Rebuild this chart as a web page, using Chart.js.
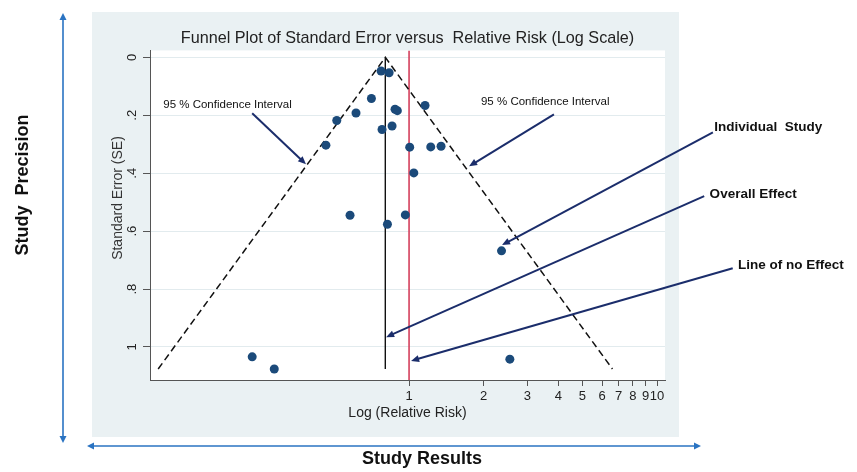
<!DOCTYPE html>
<html>
<head>
<meta charset="utf-8">
<script src="https://cdn.jsdelivr.net/npm/chart.js@4.4.1/dist/chart.umd.min.js"></script>
<style>
  html, body { margin: 0; padding: 0; background: #fff; }
  #wrap { width: 857px; height: 472px; }
</style>
</head>
<body>
<div id="wrap"><canvas id="funnel"></canvas></div>
<script>
// studies: relative risk and standard error
var studyRR = [0.771, 0.831, 0.705, 0.611, 0.511, 0.462, 1.16, 0.878, 0.897, 0.778, 0.854,
               1.006, 1.223, 1.346, 1.045, 0.578, 0.966, 0.818, 2.36, 0.233, 0.286, 2.55];
var studySE = [0.047, 0.053, 0.142, 0.192, 0.218, 0.303, 0.166, 0.179, 0.184, 0.249, 0.237,
               0.310, 0.309, 0.307, 0.399, 0.545, 0.544, 0.576, 0.668, 1.034, 1.076, 1.042];

var overallRR = 0.802;
var noEffectRR = 1;
var maxSE = 1.076;

// 95% limits of the funnel (left foot, apex, right foot)
var funnelRR = [0.0973, 0.802, 6.61];
var funnelSE = [1.076, 0, 1.076];

var xTicks = [1, 2, 3, 4, 5, 6, 7, 8, 9, 10];
var yTicks = [0, 0.2, 0.4, 0.6, 0.8, 1];
var xRange = [0.0902, 10.77];
var yRange = [-0.024, 1.114];

// call-outs, in data units (relative risk, SE)
var noteText = ["95 % Confidence Interval", "95 % Confidence Interval", "Individual  Study", "Overall Effect", "Line of no Effect"];
var noteBold = [false, false, true, true, true];
var noteAt   = [[0.102, 0.165], [1.95, 0.155], [17.0, 0.241], [16.3, 0.472], [21.2, 0.717]];
var noteTail = [[0.233, 0.193], [3.84, 0.197], [16.8, 0.259], [15.5, 0.479], [20.2, 0.728]];
var noteHead = [[0.384, 0.369], [1.746, 0.376], [2.37, 0.648], [0.808, 0.966], [1.019, 1.048]];

function pts(xs, ys) {
  var out = [];
  for (var i = 0; i < xs.length; i++) out.push({ x: xs[i], y: ys[i] });
  return out;
}

function arrow(ctx, x1, y1, x2, y2, len, half) {
  var a = Math.atan2(y2 - y1, x2 - x1);
  ctx.beginPath();
  ctx.moveTo(x1, y1);
  ctx.lineTo(x2 - Math.cos(a) * len * 0.6, y2 - Math.sin(a) * len * 0.6);
  ctx.stroke();
  ctx.beginPath();
  ctx.moveTo(x2, y2);
  ctx.lineTo(x2 - Math.cos(a) * len + Math.sin(a) * half, y2 - Math.sin(a) * len - Math.cos(a) * half);
  ctx.lineTo(x2 - Math.cos(a) * len - Math.sin(a) * half, y2 - Math.sin(a) * len + Math.cos(a) * half);
  ctx.closePath();
  ctx.fill();
}

var FONT = "'Liberation Sans', Arial, sans-serif";

var decor = {
  id: "decor",
  beforeDraw: function (chart) {
    var ctx = chart.ctx, ca = chart.chartArea;
    ctx.save();
    ctx.fillStyle = "#ffffff";
    ctx.fillRect(0, 0, chart.width, chart.height);
    ctx.fillStyle = "#eaf1f3";
    ctx.fillRect(92, 12, 587, 425);
    ctx.fillStyle = "#ffffff";
    ctx.fillRect(ca.left, ca.top, ca.right - ca.left, ca.bottom - ca.top);
    ctx.restore();
  },
  afterDraw: function (chart) {
    var ctx = chart.ctx, xs = chart.scales.x, ys = chart.scales.y;
    ctx.save();

    // y axis title
    ctx.fillStyle = "#333";
    ctx.font = "14px " + FONT;
    ctx.textAlign = "center";
    ctx.textBaseline = "middle";
    ctx.translate(118, 198);
    ctx.rotate(-Math.PI / 2);
    ctx.fillText("Standard Error (SE)", 0, 0);
    ctx.setTransform(1, 0, 0, 1, 0, 0);

    // call-outs
    ctx.strokeStyle = "#1b2d6b";
    ctx.fillStyle = "#1b2d6b";
    ctx.lineWidth = 2;
    for (var i = 0; i < noteText.length; i++) {
      arrow(ctx,
        xs.getPixelForValue(noteTail[i][0]), ys.getPixelForValue(noteTail[i][1]),
        xs.getPixelForValue(noteHead[i][0]), ys.getPixelForValue(noteHead[i][1]), 8, 3.5);
    }
    ctx.textAlign = "left";
    ctx.textBaseline = "middle";
    for (var j = 0; j < noteText.length; j++) {
      ctx.fillStyle = "#111";
      ctx.font = noteBold[j] ? "bold 13.5px " + FONT : "11.5px " + FONT;
      ctx.fillText(noteText[j], xs.getPixelForValue(noteAt[j][0]), ys.getPixelForValue(noteAt[j][1]));
    }

    // outer study precision / study results arrows
    ctx.strokeStyle = "#2a73c2";
    ctx.fillStyle = "#2a73c2";
    ctx.lineWidth = 1.6;
    arrow(ctx, 63, 228, 63, 13, 7, 3.5);
    arrow(ctx, 63, 228, 63, 443, 7, 3.5);
    arrow(ctx, 394, 446, 87, 446, 7, 3.5);
    arrow(ctx, 394, 446, 701, 446, 7, 3.5);

    ctx.fillStyle = "#111";
    ctx.font = "bold 18px " + FONT;
    ctx.textAlign = "center";
    ctx.textBaseline = "middle";
    ctx.fillText("Study Results", 422, 459);
    ctx.translate(23, 185);
    ctx.rotate(-Math.PI / 2);
    ctx.fillText("Study  Precision", 0, 0);
    ctx.restore();
  }
};

Chart.defaults.font.family = FONT;
Chart.defaults.color = "#333";

new Chart(document.getElementById("funnel"), {
  type: "scatter",
  data: {
    datasets: [
      {
        label: "Studies",
        data: pts(studyRR, studySE),
        backgroundColor: "#1b4a7a",
        borderWidth: 0,
        pointRadius: 4.5,
      },
      {
        label: "95% limits",
        data: pts(funnelRR, funnelSE),
        showLine: true,
        borderColor: "#111",
        borderWidth: 1.5,
        borderDash: [7, 4],
        pointRadius: 0,
        tension: 0,
      },
      {
        label: "Overall effect",
        data: pts([overallRR, overallRR], [0, maxSE]),
        showLine: true,
        borderColor: "#111",
        borderWidth: 1.4,
        pointRadius: 0,
      },
      {
        label: "No effect",
        data: pts([noEffectRR, noEffectRR], yRange),
        showLine: true,
        borderColor: "#d4405c",
        borderWidth: 1.6,
        pointRadius: 0,
      },
    ],
  },
  options: {
    responsive: true,
    maintainAspectRatio: false,
    animation: false,
    layout: { padding: { top: 29, right: 192, bottom: 0, left: 0 } },
    plugins: {
      legend: { display: false },
      tooltip: { enabled: false },
      title: {
        display: true,
        fullSize: false,
        text: "Funnel Plot of Standard Error versus  Relative Risk (Log Scale)",
        color: "#222",
        font: { size: 16.2, weight: "normal" },
        padding: { top: 0, bottom: 2 },
      },
    },
    scales: {
      x: {
        type: "logarithmic",
        min: xRange[0],
        max: xRange[1],
        afterBuildTicks: function (s) { s.ticks = xTicks.map(function (v) { return { value: v }; }); },
        afterFit: function (s) { s.height = 92; },
        ticks: {
          autoSkip: false, maxRotation: 0, minRotation: 0, padding: 3,
          color: "#222", font: { size: 13 },
          callback: function (v) { return String(v); },
        },
        grid: { drawOnChartArea: false, tickLength: 6, tickColor: "#555" },
        border: { color: "#555", width: 1 },
        title: {
          display: true, text: "Log (Relative Risk)", color: "#222",
          font: { size: 14 }, padding: { top: 0, bottom: 50 },
        },
      },
      y: {
        type: "linear",
        reverse: true,
        min: yRange[0],
        max: yRange[1],
        afterBuildTicks: function (s) { s.ticks = yTicks.map(function (v) { return { value: v }; }); },
        afterFit: function (s) { s.width = 150; },
        ticks: {
          minRotation: 90, maxRotation: 90, crossAlign: "center", padding: 5,
          color: "#222", font: { size: 13 },
          callback: function (v) { return v === 0 || v === 1 ? String(v) : String(v).replace(/^0/, ""); },
        },
        grid: { color: "#e2ebee", lineWidth: 1, tickLength: 7, tickColor: "#555" },
        border: { color: "#555", width: 1 },
      },
    },
  },
  plugins: [decor],
});
</script>
</body>
</html>
